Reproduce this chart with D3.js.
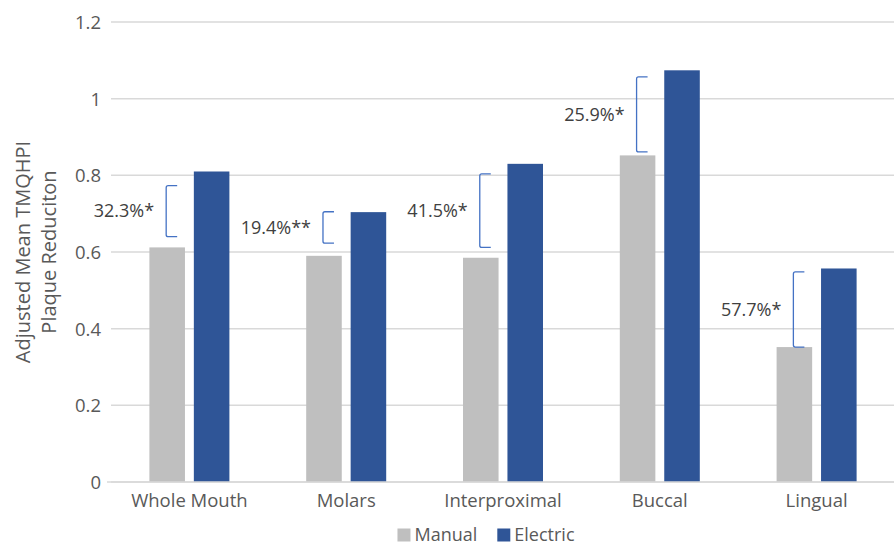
<!DOCTYPE html>
<html>
<head>
<meta charset="utf-8">
<script src="https://cdn.jsdelivr.net/npm/d3@7"></script>
<style>
  body { margin: 0; background: #fff; }
  svg { display: block; font-family: "Open Sans", sans-serif; }
</style>
</head>
<body>
<div id="vis"></div>
<script>
// chart values
const CATEGORIES = ["Whole Mouth", "Molars", "Interproximal", "Buccal", "Lingual"];
const SERIES = ["Manual", "Electric"];
const MANUAL = [0.612, 0.590, 0.585, 0.852, 0.352];
const ELECTRIC = [0.810, 0.704, 0.830, 1.074, 0.557];
const Y_TICKS = [0, 0.2, 0.4, 0.6, 0.8, 1, 1.2];

// bracket annotations (value span and label)
const NOTE_LABELS = ["32.3%*", "19.4%**", "41.5%*", "25.9%*", "57.7%*"];
const NOTE_TOP = [0.773, 0.705, 0.804, 1.057, 0.548];
const NOTE_BOTTOM = [0.640, 0.623, 0.612, 0.861, 0.352];

const FRAME_WIDTH = 894;
const FRAME_HEIGHT = 546;
const MARGINS = {left: 111, right: -1, top: 22, bottom: 64};
const COLORS = {Manual: "#bfbfbf", Electric: "#2f5597"};
const FONT = "Open Sans";

const FRAME = d3.select("#vis")
                .append("svg")
                    .attr("width", FRAME_WIDTH)
                    .attr("height", FRAME_HEIGHT);

const X_SCALE = d3.scaleBand()
                    .domain(CATEGORIES)
                    .range([MARGINS.left, FRAME_WIDTH - MARGINS.right]);

const GROUP_W = 80;
const X_SUB = d3.scaleBand()
                    .domain(SERIES)
                    .range([0, GROUP_W])
                    .paddingInner(0.2);

const Y_SCALE = d3.scaleLinear()
                    .domain([0, 1.2])
                    .range([FRAME_HEIGHT - MARGINS.bottom, MARGINS.top]);

// grid lines
FRAME.append("g")
    .selectAll("line")
    .data(Y_TICKS)
    .enter()
    .append("line")
        .attr("x1", MARGINS.left)
        .attr("x2", FRAME_WIDTH)
        .attr("y1", (d) => Y_SCALE(d))
        .attr("y2", (d) => Y_SCALE(d))
        .attr("stroke", "#d9d9d9")
        .attr("stroke-width", 1.5);

// y axis labels
const yAxis = FRAME.append("g")
    .attr("transform", "translate(" + MARGINS.left + ",0)")
    .call(d3.axisLeft(Y_SCALE).tickValues(Y_TICKS).tickSize(0).tickPadding(10)
            .tickFormat((d) => d3.format("~g")(d)))
    .attr("font-family", FONT)
    .attr("font-size", 18.5);
yAxis.select(".domain").remove();
yAxis.selectAll("text").attr("fill", "#595959").attr("dy", "0.35em");

// bars
const rows = CATEGORIES.map((c, i) => ({cat: c, Manual: MANUAL[i], Electric: ELECTRIC[i]}));
const groupOffset = (X_SCALE.bandwidth() - GROUP_W) / 2;

FRAME.append("g")
    .selectAll("g")
    .data(rows)
    .enter()
    .append("g")
        .attr("transform", (d) => "translate(" + (X_SCALE(d.cat) + groupOffset) + ",0)")
    .selectAll("rect")
    .data((d) => SERIES.map((s) => ({key: s, value: d[s]})))
    .enter()
    .append("rect")
        .attr("x", (d) => X_SUB(d.key))
        .attr("y", (d) => Y_SCALE(d.value))
        .attr("width", X_SUB.bandwidth())
        .attr("height", (d) => Y_SCALE(0) - Y_SCALE(d.value))
        .attr("fill", (d) => COLORS[d.key]);

// x axis
const xAxis = FRAME.append("g")
    .attr("transform", "translate(0," + Y_SCALE(0) + ")")
    .call(d3.axisBottom(X_SCALE).tickSize(0).tickPadding(12))
    .attr("font-family", FONT)
    .attr("font-size", 18.5);
xAxis.select(".domain")
    .attr("d", "M" + (MARGINS.left - 4) + ",0H" + FRAME_WIDTH)
    .attr("stroke", "#d9d9d9")
    .attr("stroke-width", 1.5);
xAxis.selectAll("text").attr("fill", "#595959").attr("dy", "0.71em");

// brackets
const notes = CATEGORIES.map((c, i) => ({
    cat: c, label: NOTE_LABELS[i], top: NOTE_TOP[i], bottom: NOTE_BOTTOM[i]
}));

const NOTE_G = FRAME.append("g");
notes.forEach((d) => {
    const bx = X_SCALE(d.cat) + groupOffset + X_SUB("Manual") + X_SUB.bandwidth() / 2 - 1;
    const yt = Y_SCALE(d.top);
    const yb = Y_SCALE(d.bottom);
    const r = 2;
    NOTE_G.append("path")
        .attr("d", "M" + (bx + 11) + "," + yt + "H" + (bx + r) + "Q" + bx + "," + yt + " " + bx + "," + (yt + r) +
                   "V" + (yb - r) + "Q" + bx + "," + yb + " " + (bx + r) + "," + yb + "H" + (bx + 11))
        .attr("fill", "none")
        .attr("stroke", "#4472c4")
        .attr("stroke-width", 1.3);
    NOTE_G.append("text")
        .attr("x", bx - 12)
        .attr("y", (yt + yb) / 2)
        .attr("dy", "0.35em")
        .attr("text-anchor", "end")
        .attr("font-size", 18)
        .attr("fill", "#404040")
        .text(d.label);
});

// y axis title
const TITLE = FRAME.append("text")
    .attr("transform", "translate(0," + Y_SCALE(0.6) + ") rotate(-90)")
    .attr("text-anchor", "middle")
    .attr("font-size", 20)
    .attr("fill", "#595959");
TITLE.append("tspan").attr("x", 0).attr("y", 30).text("Adjusted Mean TMQHPI");
TITLE.append("tspan").attr("x", 0).attr("y", 56).text("Plaque Reduciton");

// legend
const LEGEND = FRAME.append("g");
let lx = 0;
SERIES.forEach((s) => {
    LEGEND.append("rect")
        .attr("x", lx)
        .attr("y", -6.5)
        .attr("width", 13)
        .attr("height", 13)
        .attr("fill", COLORS[s]);
    const t = LEGEND.append("text")
        .attr("x", lx + 17)
        .attr("y", 0)
        .attr("dy", "0.35em")
        .attr("font-size", 18)
        .attr("fill", "#595959")
        .text(s);
    lx += 17 + t.node().getComputedTextLength() + 20;
});
const legendW = lx - 20;
LEGEND.attr("transform", "translate(" + (486 - legendW / 2) + ",535)");
</script>
</body>
</html>
